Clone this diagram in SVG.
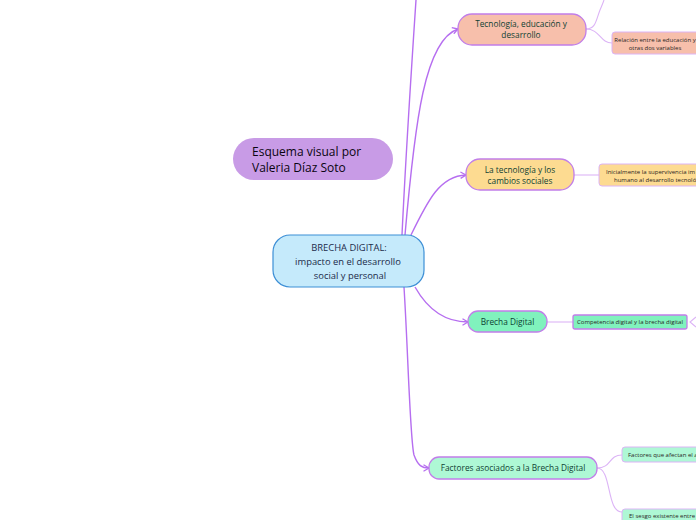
<svg xmlns="http://www.w3.org/2000/svg" width="696" height="520" viewBox="0 0 696 520">
<style>
text{font-family:"Open Sans","Noto Sans","Liberation Sans",sans-serif;}
.main{fill:none;stroke:#b66ef0;stroke-width:1.4;}
.sub{fill:none;stroke:#dcb4f6;stroke-width:1.1;}
.t1{font-size:8.3px;fill:#0e3f33;text-anchor:middle;}
.t2{font-size:6px;fill:#2a1f1f;}
.nb{stroke:#c17ee9;stroke-width:1.3;}
.ns{stroke:#dcb4f6;stroke-width:1;}
</style>
<defs>
<marker id="arr" markerWidth="8" markerHeight="8" refX="6" refY="4" orient="auto" markerUnits="userSpaceOnUse">
<path d="M0.5,0.8 L6,4 L0.5,7.2" fill="none" stroke="#b66ef0" stroke-width="1.3"/>
</marker>
</defs>
<rect width="696" height="520" fill="#ffffff"/>
<g id="connectors">
<path class="main" d="M402,235 C406,150 412,60 416,0"/>
<path class="main" d="M405,235 C415,120 425,40 458,29" marker-end="url(#arr)"/>
<path class="main" d="M411,235 C428,200 440,176 466,175" marker-end="url(#arr)"/>
<path class="main" d="M415,287 C428,310 445,322 468,322" marker-end="url(#arr)"/>
<path class="main" d="M404,287 C408,350 410,440 414,455 C418,466 422,468 429,468" marker-end="url(#arr)"/>
<path class="sub" d="M586,29 C596,29 596,20 600,10 C603,3 604,0 604,0"/>
<path class="sub" d="M586,29 C600,29 600,43 612,43"/>
<path class="sub" d="M574,175 L599,175"/>
<path class="sub" d="M547,322 L573,322"/>
<path class="sub" d="M597,468 C612,468 608,455 622,455"/>
<path class="sub" d="M597,468 C612,468 606,512 622,512"/>
<path class="sub" d="M696,317 L690,322 L696,327"/>
</g>
<g id="title">
<rect x="233" y="138" width="160" height="42" rx="21" fill="#c89be6"/>
<text x="252" y="156" font-size="12" font-weight="500" fill="#0a0510">Esquema visual por</text>
<text x="252" y="172" font-size="12" font-weight="500" fill="#0a0510">Valeria Díaz Soto</text>
</g>
<g id="center">
<rect x="273" y="235" width="151" height="52" rx="17" fill="#c5eafb" stroke="#3d8fd6" stroke-width="1.2"/>
<text x="349" y="251" font-size="9.4" fill="#1c2a4a" text-anchor="middle">BRECHA DIGITAL:</text>
<text x="348" y="265" font-size="9.4" fill="#1c2a4a" text-anchor="middle">impacto en el desarrollo</text>
<text x="350" y="279" font-size="9.4" fill="#1c2a4a" text-anchor="middle">social y personal</text>
</g>
<g id="n-tecnologia-educacion">
<rect class="nb" x="458" y="14" width="128" height="31" rx="14" fill="#f7bfab"/>
<text class="t1" x="521" y="27">Tecnología, educación y</text>
<text class="t1" x="521" y="38">desarrollo</text>
</g>
<g id="n-relacion">
<rect class="ns" x="612" y="32" width="100" height="22" rx="3" fill="#f7bfab"/>
<text class="t2" x="655" y="42" text-anchor="middle">Relación entre la educación y</text>
<text class="t2" x="655" y="50" text-anchor="middle">otras dos variables</text>
</g>
<g id="n-tecnologia-cambios">
<rect class="nb" x="466" y="159" width="108" height="31" rx="14" fill="#fddb91"/>
<text class="t1" x="520" y="173">La tecnología y los</text>
<text class="t1" x="520" y="184">cambios sociales</text>
</g>
<g id="n-inicialmente">
<rect class="ns" x="599" y="164" width="110" height="22" rx="3" fill="#fddb91"/>
<text class="t2" x="606" y="174">Inicialmente la supervivencia im</text>
<text class="t2" x="614" y="182">humano al desarrollo tecnoló</text>
</g>
<g id="n-brecha">
<rect class="nb" x="468" y="311" width="79" height="21" rx="10" fill="#80f2bd"/>
<text class="t1" x="507.5" y="325">Brecha Digital</text>
</g>
<g id="n-competencia">
<rect class="nb" x="573" y="315" width="114" height="14" rx="2" fill="#80f2bd" stroke-width="1"/>
<text class="t2" x="630" y="324" text-anchor="middle">Competencia digital y la brecha digital</text>
</g>
<g id="n-factores">
<rect class="nb" x="429" y="457" width="168" height="22" rx="10" fill="#aef8d5"/>
<text class="t1" x="513" y="471">Factores asociados a la Brecha Digital</text>
</g>
<g id="n-factores-afectan">
<rect class="ns" x="622" y="447" width="90" height="15" rx="3" fill="#aef8d5"/>
<text class="t2" x="628" y="457">Factores que afectan el a</text>
</g>
<g id="n-sesgo">
<rect class="ns" x="622" y="509" width="90" height="20" rx="3" fill="#aef8d5"/>
<text class="t2" x="629" y="518">El sesgo existente entre</text>
</g>
</svg>
